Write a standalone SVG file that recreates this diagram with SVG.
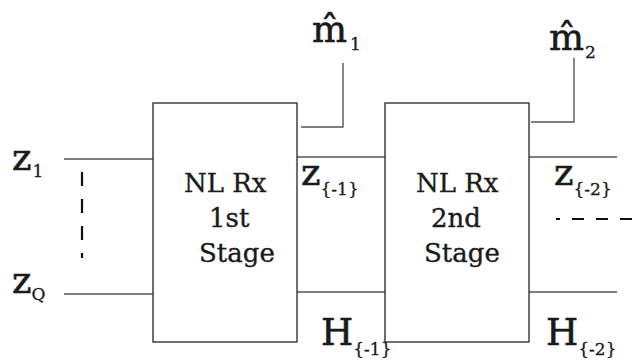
<svg xmlns="http://www.w3.org/2000/svg" width="639" height="362" viewBox="0 0 639 362">
<style>
.box{fill:#fff;stroke:#333;stroke-width:1.4}
.ln{fill:none;stroke:#555;stroke-width:1.4}
.dash{fill:none;stroke:#111;stroke-width:2.2}
text{font-family:"DejaVu Serif","Liberation Serif",serif;fill:#1a1a1a;stroke:#1a1a1a;stroke-width:0.35}
.bt{font-size:26px}
.lb{font-size:37px;stroke-width:0.6}
.sb{font-size:17px;stroke-width:0.3}
</style>
<rect width="639" height="362" fill="#fff"/>
<g id="connectors">
<line class="ln" x1="64" y1="159" x2="153" y2="159"/>
<line class="ln" x1="64" y1="294" x2="153" y2="294"/>
<line class="ln" x1="297" y1="157" x2="385" y2="157"/>
<line class="ln" x1="297" y1="292" x2="385" y2="292"/>
<line class="ln" x1="529" y1="157" x2="617" y2="157"/>
<line class="ln" x1="529" y1="292" x2="617" y2="292"/>
<polyline class="ln" points="301,127 343,127 343,63"/>
<polyline class="ln" points="531,122 574,122 574,58"/>
<line class="dash" x1="82" y1="172" x2="82" y2="258" stroke-dasharray="14 13"/>
<line class="dash" x1="556" y1="219" x2="639" y2="219" stroke-dasharray="12 12" stroke-dashoffset="8"/>
</g>
<g id="stage1">
<rect class="box" x="153" y="103" width="144" height="239"/>
<text class="bt" x="184" y="192">NL Rx</text>
<text class="bt" x="209" y="227">1st</text>
<text class="bt" x="199" y="262">Stage</text>
</g>
<g id="stage2">
<rect class="box" x="385" y="103" width="144" height="239"/>
<text class="bt" x="416" y="192">NL Rx</text>
<text class="bt" x="431" y="227">2nd</text>
<text class="bt" x="424" y="262">Stage</text>
</g>
<g id="label-z1"><text class="lb" x="12" y="170">z<tspan class="sb" dx="1" dy="7">1</tspan></text></g>
<g id="label-zQ"><text class="lb" x="12" y="293">z<tspan class="sb" dy="7">Q</tspan></text></g>
<g id="label-z-1"><text class="lb" x="301" y="185">z<tspan class="sb" dy="10">{-1}</tspan></text></g>
<g id="label-z-2"><text class="lb" x="554" y="185">z<tspan class="sb" dy="10">{-2}</tspan></text></g>
<g id="label-H-1"><text class="lb" x="321" y="345">H<tspan class="sb" dy="10">{-1}</tspan></text></g>
<g id="label-H-2"><text class="lb" x="546" y="345">H<tspan class="sb" dy="10">{-2}</tspan></text></g>
<g id="label-m1"><text class="lb" x="312" y="42">m̂<tspan class="sb" dx="3" dy="8">1</tspan></text></g>
<g id="label-m2"><text class="lb" x="549" y="50">m̂<tspan class="sb" dx="1" dy="8">2</tspan></text></g>
</svg>
